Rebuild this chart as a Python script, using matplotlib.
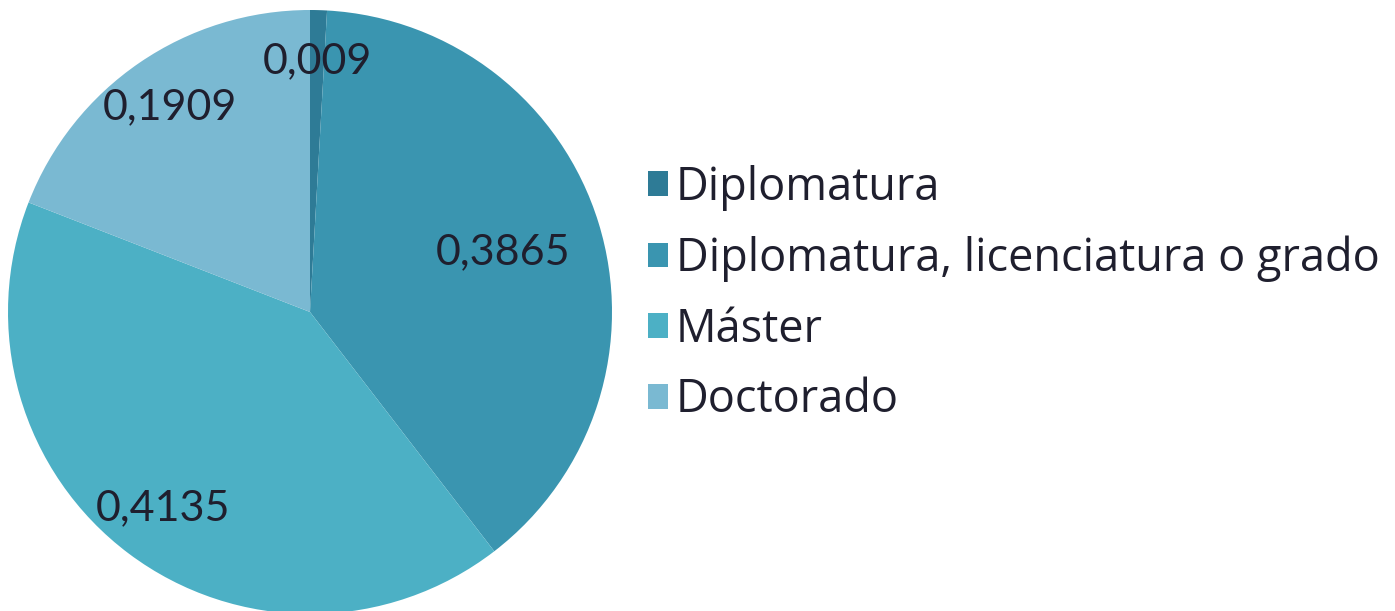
import numpy as np
import matplotlib.pyplot as plt
from matplotlib.patches import Patch

categories = ["Diplomatura", "Diplomatura, licenciatura o grado", "Máster", "Doctorado"]
values = [0.009, 0.3865, 0.4135, 0.1909]
value_labels = ["0,009", "0,3865", "0,4135", "0,1909"]
colors = ["#2e7b96", "#3a95b0", "#4cb0c5", "#7ab9d2"]
label_dist = [0.83, 0.67, 0.81, 0.82]

plt.rcParams['font.family'] = ['Lato', 'DejaVu Sans']
W, H = 1395, 611
fig = plt.figure(figsize=(W / 100, H / 100), dpi=100)

# pie axes placed in pixels: centre (310, 312), radius 302
cx, cy, r = 310, 312, 302
ax = fig.add_axes([(cx - r) / W, (H - cy - r) / H, 2 * r / W, 2 * r / H])
wedges, _ = ax.pie(values, colors=colors, startangle=90, counterclock=False,
                   radius=1, wedgeprops=dict(linewidth=0))
ax.set_xlim(-1, 1)
ax.set_ylim(-1, 1)
ax.axis('off')

for w, lab, d in zip(wedges, value_labels, label_dist):
    ang = np.deg2rad((w.theta1 + w.theta2) / 2)
    ax.text(d * np.cos(ang), d * np.sin(ang), lab, ha='center', va='center',
            fontsize=31, color='#1f1f2e')

handles = [Patch(facecolor=c, edgecolor='none') for c in colors]
fig.legend(handles, categories, loc='center left', bbox_to_anchor=(625 / W, 1 - 294 / H),
           frameon=False, prop=dict(family=['Open Sans', 'DejaVu Sans'], size=32.5),
           handlelength=0.45, handleheight=0.45,
           handletextpad=0.18, labelspacing=0.55, labelcolor='#1f1f2e', borderpad=0)

fig.savefig("out.png", dpi=100)
